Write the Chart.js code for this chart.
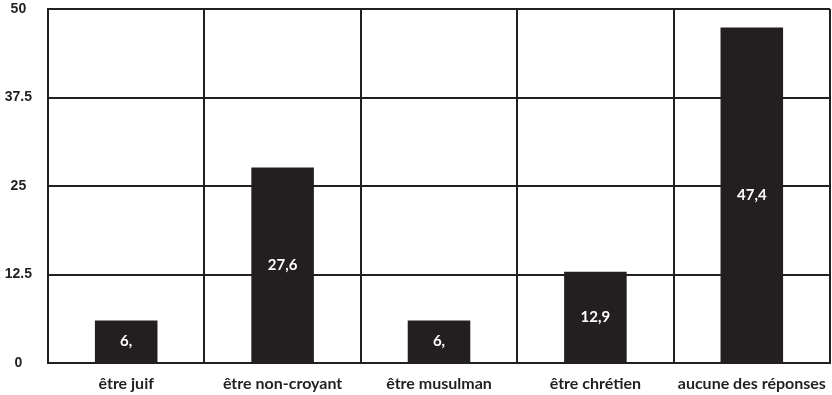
<!DOCTYPE html>
<html>
<head>
<meta charset="utf-8">
<script src="https://cdn.jsdelivr.net/npm/chart.js@4"></script>
<style>
  html, body { margin: 0; padding: 0; background: #fff; }
  #wrap { width: 832px; height: 395px; position: relative; }
</style>
</head>
<body>
<div id="wrap"><canvas id="chart"></canvas></div>
<script>
// Données
const categories = ['être juif', 'être non-croyant', 'être musulman', 'être chrétien', 'aucune des réponses'];
const values = [6, 27.6, 6, 12.9, 47.4];
const valueLabels = ['6,', '27,6', '6,', '12,9', '47,4'];
const yTicks = [0, 12.5, 25, 37.5, 50];

const ink = '#231f20';

// Étiquettes blanches au milieu des barres
const barLabels = {
  id: 'barLabels',
  afterDatasetsDraw(chart) {
    const ctx = chart.ctx;
    const meta = chart.getDatasetMeta(0);
    ctx.save();
    ctx.fillStyle = '#fff';
    ctx.font = 'bold 15px Lato, "Open Sans", sans-serif';
    ctx.textAlign = 'center';
    ctx.textBaseline = 'middle';
    meta.data.forEach((bar, i) => {
      const mid = (bar.y + bar.base) / 2;
      ctx.fillText(valueLabels[i], bar.x, mid);
    });
    ctx.restore();
  }
};

new Chart(document.getElementById('chart'), {
  type: 'bar',
  data: {
    labels: categories,
    datasets: [{
      data: values,
      backgroundColor: ink,
      borderWidth: 0,
      categoryPercentage: 1,
      barPercentage: 0.4
    }]
  },
  options: {
    responsive: true,
    maintainAspectRatio: false,
    animation: false,
    layout: { padding: { top: 9, right: 2, bottom: 0, left: 0 } },
    plugins: { legend: { display: false }, tooltip: { enabled: false } },
    scales: {
      x: {
        afterFit: s => { s.height = 32; s.paddingLeft = 0; s.paddingRight = 0; },
        grid: { color: ink, lineWidth: 2, drawTicks: false, offset: true },
        border: { color: ink, width: 2 },
        ticks: {
          color: ink,
          padding: 11,
          font: { family: 'Lato, "Open Sans", sans-serif', size: 16, weight: 'bold' }
        }
      },
      y: {
        min: 0,
        max: 50,
        afterBuildTicks: s => { s.ticks = yTicks.map(v => ({ value: v })); },
        afterFit: s => { s.width = 48; s.paddingTop = 0; s.paddingBottom = 0; },
        grid: { color: ink, lineWidth: 2, drawTicks: false },
        border: { color: ink, width: 2 },
        ticks: {
          color: ink,
          padding: 16,
          crossAlign: 'center',
          font: { family: '"Liberation Sans", Arial, sans-serif', size: 14, weight: 'bold' },
          callback: v => String(v)
        }
      }
    }
  },
  plugins: [barLabels]
});
</script>
</body>
</html>
